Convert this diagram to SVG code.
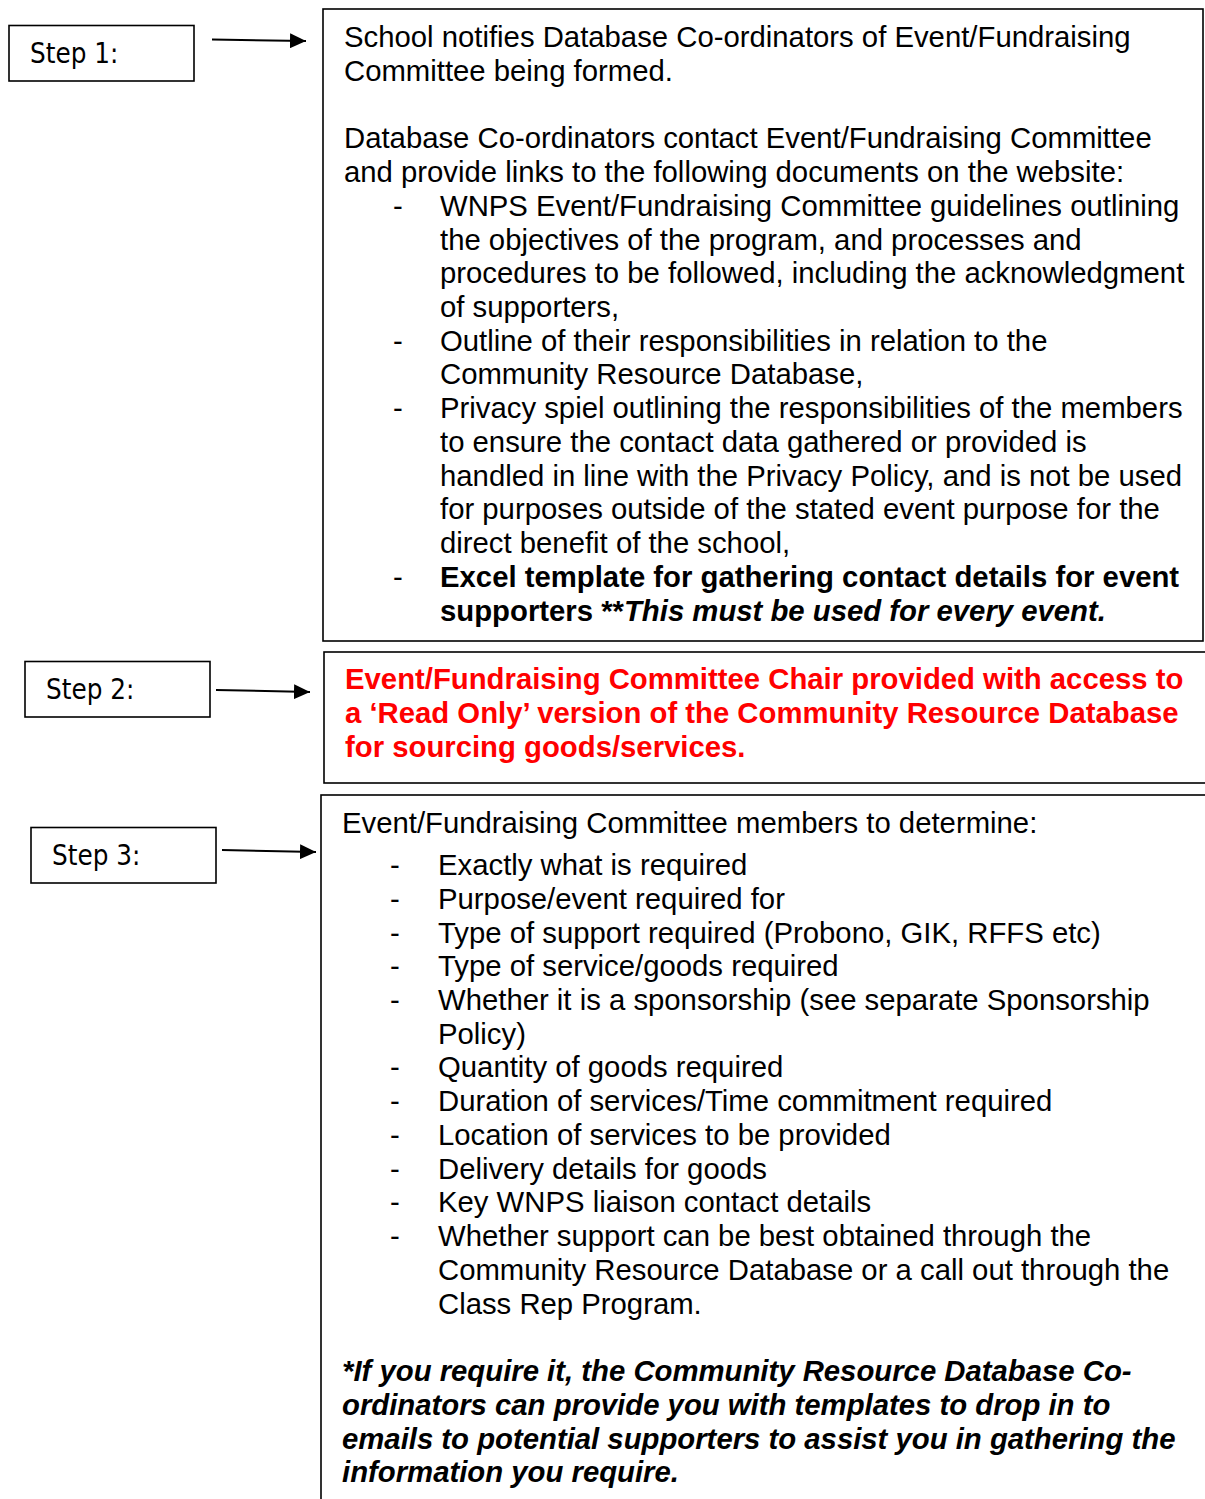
<svg xmlns="http://www.w3.org/2000/svg" width="1205" height="1499" viewBox="0 0 1205 1499">
<defs>
<style>
.box{fill:#fff;stroke:#000;stroke-width:1.6}
.step{font-family:"DejaVu Sans Condensed","DejaVu Sans",Verdana,sans-serif;font-stretch:condensed;font-size:27.5px;fill:#000}
.t{font-family:"Liberation Sans",Arial,sans-serif;font-size:29.3px;fill:#000}
.b{font-weight:bold}
.bi{font-weight:bold;font-style:italic}
.red{fill:#ff0000;font-weight:bold}
.conn{stroke:#000;stroke-width:2;fill:none}
</style>
<marker id="ah" viewBox="0 0 16 15" refX="16" refY="7.5" markerWidth="16" markerHeight="15" markerUnits="userSpaceOnUse" orient="auto">
<path d="M0,0 L16,7.5 L0,15 z" fill="#000"/>
</marker>
</defs>
<rect width="1205" height="1499" fill="#fff"/>
<g id="connectors">
<line class="conn" x1="212" y1="39.5" x2="306" y2="41" marker-end="url(#ah)"/>
<line class="conn" x1="216" y1="690" x2="310" y2="692" marker-end="url(#ah)"/>
<line class="conn" x1="222" y1="850" x2="316" y2="852" marker-end="url(#ah)"/>
</g>
<g id="step1">
<rect class="box" x="9" y="25.5" width="185" height="55.5"/>
<text class="step" x="30" y="63">Step 1:</text>
</g>
<g id="step2">
<rect class="box" x="25" y="661.5" width="185" height="55.5"/>
<text class="step" x="46" y="699">Step 2:</text>
</g>
<g id="step3">
<rect class="box" x="31" y="827.5" width="185" height="55.5"/>
<text class="step" x="52" y="865">Step 3:</text>
</g>
<g id="box1">
<rect class="box" x="323" y="9" width="880" height="632"/>
<text class="t" x="344" y="47">School notifies Database Co-ordinators of Event/Fundraising</text>
<text class="t" x="344" y="81">Committee being formed.</text>
<text class="t" x="344" y="148">Database Co-ordinators contact Event/Fundraising Committee</text>
<text class="t" x="344" y="182">and provide links to the following documents on the website:</text>
<text class="t" x="393" y="216">-</text>
<text class="t" x="440" y="216">WNPS Event/Fundraising Committee guidelines outlining</text>
<text class="t" x="440" y="250">the objectives of the program, and processes and</text>
<text class="t" x="440" y="283">procedures to be followed, including the acknowledgment</text>
<text class="t" x="440" y="317">of supporters,</text>
<text class="t" x="393" y="351">-</text>
<text class="t" x="440" y="351">Outline of their responsibilities in relation to the</text>
<text class="t" x="440" y="384">Community Resource Database,</text>
<text class="t" x="393" y="418">-</text>
<text class="t" x="440" y="418">Privacy spiel outlining the responsibilities of the members</text>
<text class="t" x="440" y="452">to ensure the contact data gathered or provided is</text>
<text class="t" x="440" y="486">handled in line with the Privacy Policy, and is not be used</text>
<text class="t" x="440" y="519">for purposes outside of the stated event purpose for the</text>
<text class="t" x="440" y="553">direct benefit of the school,</text>
<text class="t" x="393" y="587">-</text>
<text class="t b" x="440" y="587">Excel template for gathering contact details for event</text>
<text class="t b" x="440" y="621">supporters **<tspan class="bi">This must be used for every event.</tspan></text>
</g>
<g id="box2">
<rect class="box" x="324" y="652" width="890" height="131"/>
<text class="t red" x="345" y="689">Event/Fundraising Committee Chair provided with access to</text>
<text class="t red" x="345" y="723">a ‘Read Only’ version of the Community Resource Database</text>
<text class="t red" x="345" y="757">for sourcing goods/services.</text>
</g>
<g id="box3">
<rect class="box" x="321" y="795" width="894" height="720"/>
<text class="t" x="342" y="833">Event/Fundraising Committee members to determine:</text>
<text class="t" x="390" y="875">-</text><text class="t" x="438" y="875">Exactly what is required</text>
<text class="t" x="390" y="909">-</text><text class="t" x="438" y="909">Purpose/event required for</text>
<text class="t" x="390" y="943">-</text><text class="t" x="438" y="943">Type of support required (Probono, GIK, RFFS etc)</text>
<text class="t" x="390" y="976">-</text><text class="t" x="438" y="976">Type of service/goods required</text>
<text class="t" x="390" y="1010">-</text><text class="t" x="438" y="1010">Whether it is a sponsorship (see separate Sponsorship</text>
<text class="t" x="438" y="1044">Policy)</text>
<text class="t" x="390" y="1077">-</text><text class="t" x="438" y="1077">Quantity of goods required</text>
<text class="t" x="390" y="1111">-</text><text class="t" x="438" y="1111">Duration of services/Time commitment required</text>
<text class="t" x="390" y="1145">-</text><text class="t" x="438" y="1145">Location of services to be provided</text>
<text class="t" x="390" y="1179">-</text><text class="t" x="438" y="1179">Delivery details for goods</text>
<text class="t" x="390" y="1212">-</text><text class="t" x="438" y="1212">Key WNPS liaison contact details</text>
<text class="t" x="390" y="1246">-</text><text class="t" x="438" y="1246">Whether support can be best obtained through the</text>
<text class="t" x="438" y="1280">Community Resource Database or a call out through the</text>
<text class="t" x="438" y="1314">Class Rep Program.</text>
<text class="t bi" x="342" y="1381">*If you require it, the Community Resource Database Co-</text>
<text class="t bi" x="342" y="1415">ordinators can provide you with templates to drop in to</text>
<text class="t bi" x="342" y="1449">emails to potential supporters to assist you in gathering the</text>
<text class="t bi" x="342" y="1482">information you require.</text>
</g>
</svg>
